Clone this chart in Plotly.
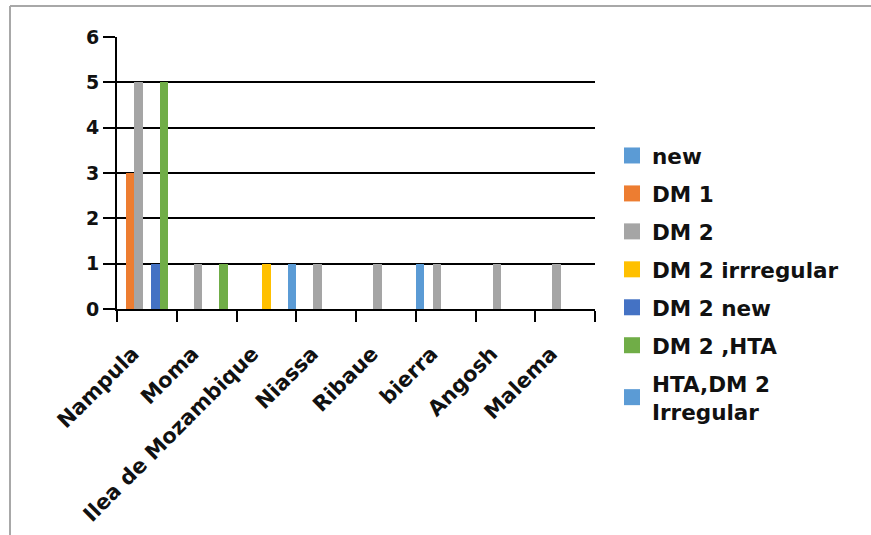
import plotly.graph_objects as go

categories = ["Nampula", "Moma", "Ilea de Mozambique", "Niassa", "Ribaue", "bierra", "Angosh", "Malema"]
series_names = ["new", "DM 1", "DM 2", "DM 2 irrregular", "DM 2 new", "DM 2 ,HTA", "HTA,DM 2<br>Irregular"]
new_vals = [0, 0, 0, 0, 0, 1, 0, 0]
dm1_vals = [3, 0, 0, 0, 0, 0, 0, 0]
dm2_vals = [5, 1, 0, 1, 1, 1, 1, 1]
dm2_irr_vals = [0, 0, 1, 0, 0, 0, 0, 0]
dm2_new_vals = [1, 0, 0, 0, 0, 0, 0, 0]
dm2_hta_vals = [5, 1, 0, 0, 0, 0, 0, 0]
hta_dm2_irr_vals = [0, 0, 1, 0, 0, 0, 0, 0]
colors = ["#5B9BD5", "#ED7D31", "#A5A5A5", "#FFC000", "#4472C4", "#70AD47", "#5B9BD5"]
y_ticks = [0, 1, 2, 3, 4, 5, 6]

all_vals = [new_vals, dm1_vals, dm2_vals, dm2_irr_vals, dm2_new_vals, dm2_hta_vals, hta_dm2_irr_vals]

FONT = "DejaVu Sans"
fig = go.Figure()
for i, (name, vals, col) in enumerate(zip(series_names, all_vals, colors)):
    fig.add_trace(go.Bar(x=categories, y=vals, name=name, marker=dict(color=col, line=dict(width=0)),
                         showlegend=False))
for i, (name, col) in enumerate(zip(series_names, colors)):
    fig.add_trace(go.Scatter(x=[categories[0]], y=[None], mode="markers", name=name,
                             legendgroup=f"g{i}",
                             marker=dict(symbol="square", size=16, color=col), showlegend=True))

L, R, T, B = 117, 276, 37, 226
W, H = 871, 535
pw = W - L - R
ph = H - T - B
def px_x(p):
    return (p - L) / pw
def px_y(p):
    return (H - B - p) / ph

fig.update_layout(
    width=W, height=H,
    margin=dict(l=L, r=R, t=T, b=B, autoexpand=False),
    paper_bgcolor="white", plot_bgcolor="white",
    barmode="group", bargap=0, bargroupgap=0,
    font=dict(family=FONT, color="#111111"),
    legend=dict(x=px_x(612), xanchor="left", y=px_y(135), yanchor="top",
                font=dict(family=FONT, size=21.5, color="#111111", weight="bold"),
                traceorder="grouped", tracegroupgap=7, bgcolor="rgba(0,0,0,0)",
                maxheight=500),
    xaxis=dict(type="category", range=[-0.5, 7.5], showline=True, linecolor="black", linewidth=2,
               ticks="outside", tickson="boundaries", ticklen=11, tickwidth=2, tickcolor="black",
               tickangle=-45, tickfont=dict(family=FONT, size=21, color="#111111", weight="bold"),
               ticklabelstandoff=22, ticklabelshift=-14,
               showgrid=False, zeroline=False),
    yaxis=dict(range=[0, 6], tickvals=y_ticks, showline=True, linecolor="black", linewidth=2,
               ticks="outside", ticklen=12, tickwidth=2, tickcolor="black",
               showgrid=True, gridcolor="black", gridwidth=2, zeroline=False,
               tickfont=dict(family=FONT, size=19, color="#111111", weight="bold")),
    shapes=[
        dict(type="line", xref="paper", yref="paper", x0=px_x(10), x1=px_x(871), y0=px_y(6), y1=px_y(6),
             line=dict(color="#A8A8A8", width=2)),
        dict(type="line", xref="paper", yref="paper", x0=px_x(10), x1=px_x(10), y0=px_y(6), y1=px_y(535),
             line=dict(color="#A8A8A8", width=2)),
    ],
)

fig.write_html("out.html")
